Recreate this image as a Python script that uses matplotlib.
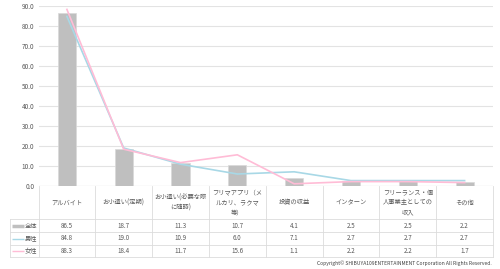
import matplotlib
matplotlib.use("Agg")
import matplotlib.pyplot as plt
import matplotlib.transforms as mtransforms

plt.rcParams['font.family'] = ['Noto Sans CJK JP', 'DejaVu Sans']

categories = ["アルバイト", "お小遣い(定期)", "お小遣い(必要な際\nに随時)", "フリマアプリ（メ\nルカリ、ラクマ\n等）",
              "投資の収益", "インターン", "フリーランス・個\n人事業主としての\n収入", "その他"]
series_names = ["全体", "男性", "女性"]
total = [86.5, 18.7, 11.3, 10.7, 4.1, 2.5, 2.5, 2.2]
male = [84.8, 19.0, 10.9, 6.0, 7.1, 2.7, 2.7, 2.7]
female = [88.3, 18.4, 11.7, 15.6, 1.1, 2.2, 2.2, 1.7]
yticks = [0, 10, 20, 30, 40, 50, 60, 70, 80, 90]

bar_color = "#bfbfbf"
male_color = "#a8d8e6"
female_color = "#ffbcd6"
text_color = "#595959"
grid_color = "#e3e3e3"

W, H = 500, 269
fig = plt.figure(figsize=(W / 100, H / 100), dpi=100)
ax_left, ax_right, ax_top, ax_bottom = 38.5, 493, 6, 186
ax = fig.add_axes([ax_left / W, 1 - ax_bottom / H, (ax_right - ax_left) / W, (ax_bottom - ax_top) / H])

x = list(range(len(categories)))
ax.bar(x, total, width=0.32, color=bar_color, edgecolor="#d9d9d9", linewidth=0.5, zorder=2)
ax.plot(x, male, color=male_color, linewidth=1.2, zorder=3)
ax.plot(x, female, color=female_color, linewidth=1.2, zorder=4)

ax.set_xlim(-0.5, len(categories) - 0.5)
ax.set_ylim(0, 90)
ax.set_yticks(yticks)
ax.set_yticklabels([f"{v:.1f}" for v in yticks], fontsize=4.6, color=text_color)
ax.set_xticks([])
ax.tick_params(axis='y', length=0, pad=3)
ax.grid(axis='y', color=grid_color, linewidth=0.8, zorder=0)
for s in ax.spines.values():
    s.set_visible(False)
ax.axhline(0, color="#d9d9d9", linewidth=0.8, zorder=1)

# table below the axes (pixel rows)
ah = ax_bottom - ax_top
def ay(py):
    return -(py - ax_bottom) / ah

trans = mtransforms.blended_transform_factory(ax.transData, ax.transAxes)
line_kw = dict(color="#dcdcdc", linewidth=0.6, clip_on=False, transform=trans)
col_w = (ax_right - ax_left) / len(categories)
x_tab_left = -0.5 - (ax_left - 10) / col_w
x_end = len(categories) - 0.5

header_top, header_bot = 186, 219
row_edges = [219, 232, 245, 257]

# horizontal lines
for py in row_edges:
    ax.plot([x_tab_left, x_end], [ay(py), ay(py)], **line_kw)
# vertical lines
for i in range(len(categories) + 1):
    xv = -0.5 + i
    ax.plot([xv, xv], [ay(header_top), ay(row_edges[-1])], **line_kw)
ax.plot([x_tab_left, x_tab_left], [ay(row_edges[0]), ay(row_edges[-1])], **line_kw)

fs = 4.5
for i, c in enumerate(categories):
    ax.text(i, ay((header_top + header_bot) / 2), c, transform=trans, ha='center', va='center',
            fontsize=fs, color=text_color, linespacing=1.25)

data = [total, male, female]
colors = [bar_color, male_color, female_color]
lws = [2.5, 1.0, 1.0]
for r, (name, vals, col, lw) in enumerate(zip(series_names, data, colors, lws)):
    yc = ay((row_edges[r] + row_edges[r + 1]) / 2)
    for i, v in enumerate(vals):
        ax.text(i, yc, f"{v:.1f}", transform=trans, ha='center', va='center', fontsize=fs, color=text_color)
    sx0 = x_tab_left + 2 / col_w
    sx1 = x_tab_left + 14 / col_w
    ax.plot([sx0, sx1], [yc, yc], color=col, linewidth=lw, clip_on=False, transform=trans, solid_capstyle='butt')
    ax.text(sx1 + 1 / col_w, yc, name, transform=trans, ha='left', va='center', fontsize=fs, color=text_color)

fig.text(492 / W, 1 - 263 / H, "Copyright© SHIBUYA109ENTERTAINMENT Corporation All Rights Reserved.",
         ha='right', va='center', fontsize=3.6, color="#404040")

fig.savefig("out.png", dpi=100)
